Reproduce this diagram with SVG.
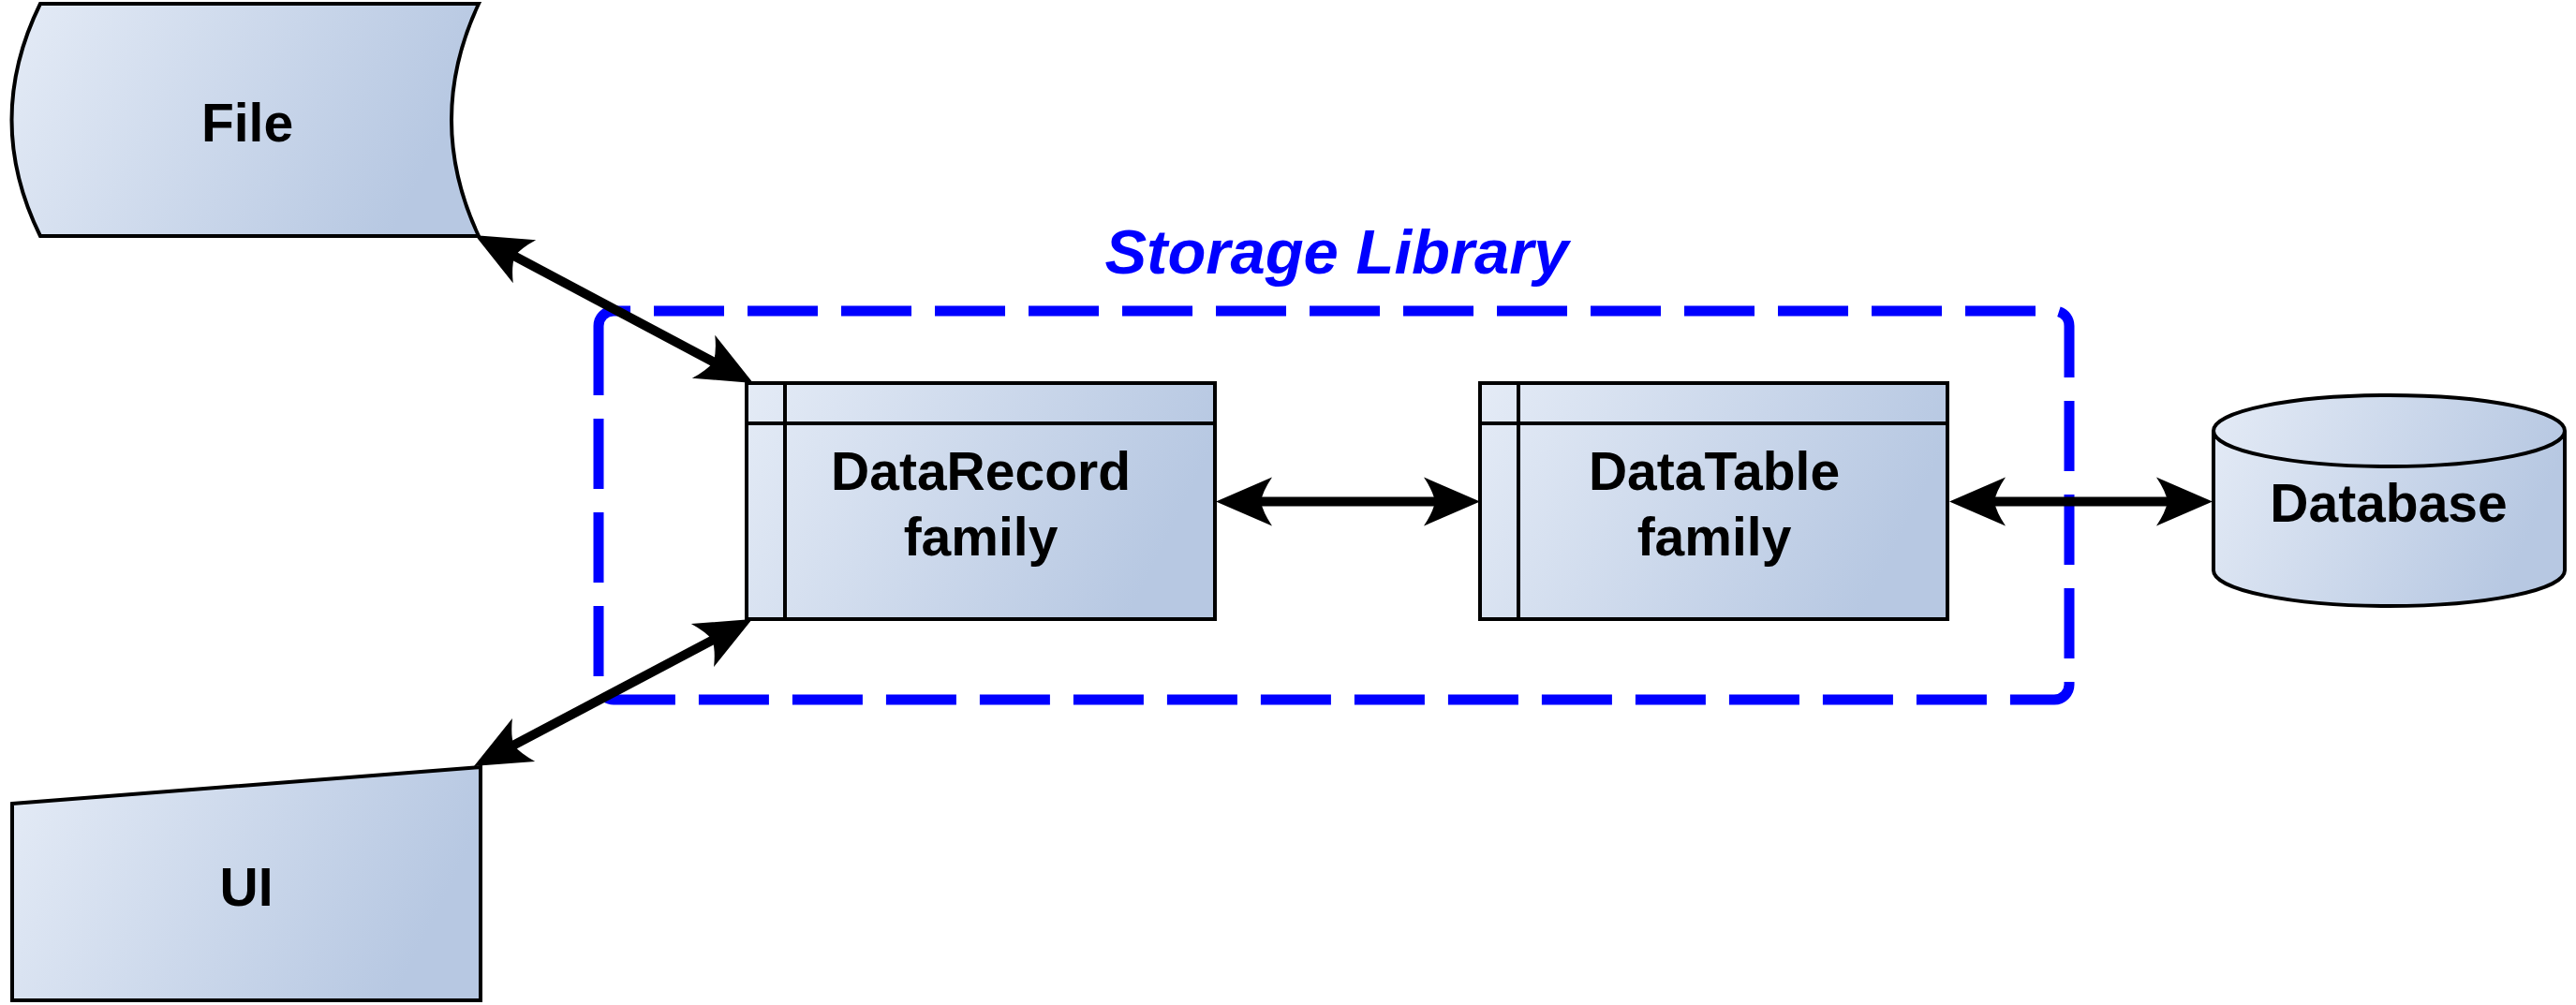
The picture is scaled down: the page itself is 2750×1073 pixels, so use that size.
<svg xmlns="http://www.w3.org/2000/svg" width="2750" height="1073" viewBox="0 0 2750 1073">
  <defs>
    <linearGradient id="fillGrad" x1="0" y1="0" x2="1" y2="0.25">
      <stop offset="0" stop-color="#E4EBF6"/>
      <stop offset="1" stop-color="#B7C8E2"/>
    </linearGradient>
    <marker id="arrow" viewBox="-62 -28 64 56" refX="-44" refY="0" markerWidth="64" markerHeight="56" markerUnits="userSpaceOnUse" orient="auto-start-reverse">
      <path d="M0,0 L-60,-26 Q-50,-11 -48,0 Q-50,11 -60,26 Z" fill="#000"/>
    </marker>
    <style>
      .shape { fill: url(#fillGrad); stroke: #000; stroke-width: 4; stroke-linejoin: miter; }
      .line { fill: none; stroke: #000; stroke-width: 4; }
      .label { font-family: "Liberation Sans", Arial, sans-serif; font-weight: bold; font-size: 57px; fill: #000; text-anchor: middle; }
      .title { font-family: "Liberation Sans", Arial, sans-serif; font-weight: bold; font-style: italic; font-size: 67px; fill: #0000FF; text-anchor: middle; }
      .container { fill: none; stroke: #0000FF; stroke-width: 11; stroke-dasharray: 75 25; }
      .conn { fill: none; stroke: #000; stroke-width: 10; marker-start: url(#arrow); marker-end: url(#arrow); }
    </style>
  </defs>

  <rect width="2750" height="1073" fill="#FFFFFF"/>

  <g id="storage-library">
    <path class="container" d="M639,380 V348 A16,16 0 0 1 655,332 H2193 A16,16 0 0 1 2209,348 V731 A16,16 0 0 1 2193,747 H655 A16,16 0 0 1 639,731 Z"/>
    <text class="title" x="1427" y="292">Storage Library</text>
  </g>

  <g id="file">
    <path class="shape" d="M43,4 H511 Q453,128 511,252 H43 Q-18,128 43,4 Z"/>
    <text class="label" x="264" y="151">File</text>
  </g>

  <g id="ui">
    <path class="shape" d="M13,858 L513,819 V1068 H13 Z"/>
    <text class="label" x="263" y="967">UI</text>
  </g>

  <g id="datarecord">
    <rect class="shape" x="797" y="409" width="500" height="252"/>
    <line class="line" x1="797" y1="452" x2="1297" y2="452"/>
    <line class="line" x1="838" y1="409" x2="838" y2="661"/>
    <text class="label" x="1047" y="523">DataRecord</text>
    <text class="label" x="1047" y="593">family</text>
  </g>

  <g id="datatable">
    <rect class="shape" x="1580" y="409" width="499" height="252"/>
    <line class="line" x1="1580" y1="452" x2="2079" y2="452"/>
    <line class="line" x1="1621" y1="409" x2="1621" y2="661"/>
    <text class="label" x="1830" y="523">DataTable</text>
    <text class="label" x="1830" y="593">family</text>
  </g>

  <g id="database">
    <path class="shape" d="M2363,460 A187.5,38 0 0 1 2738,460 V609 A187.5,38 0 0 1 2363,609 Z"/>
    <path class="line" d="M2363,460 A187.5,38 0 0 0 2738,460"/>
    <text class="label" x="2550" y="557">Database</text>
  </g>

  <g id="connectors">
    <line class="conn" x1="545.8" y1="271.7" x2="765.2" y2="388.3"/>
    <line class="conn" x1="544.9" y1="797.4" x2="764.1" y2="681.6"/>
    <line class="conn" x1="1342" y1="535.5" x2="1536" y2="535.5"/>
    <line class="conn" x1="2125" y1="535.5" x2="2318" y2="535.5"/>
  </g>
</svg>
